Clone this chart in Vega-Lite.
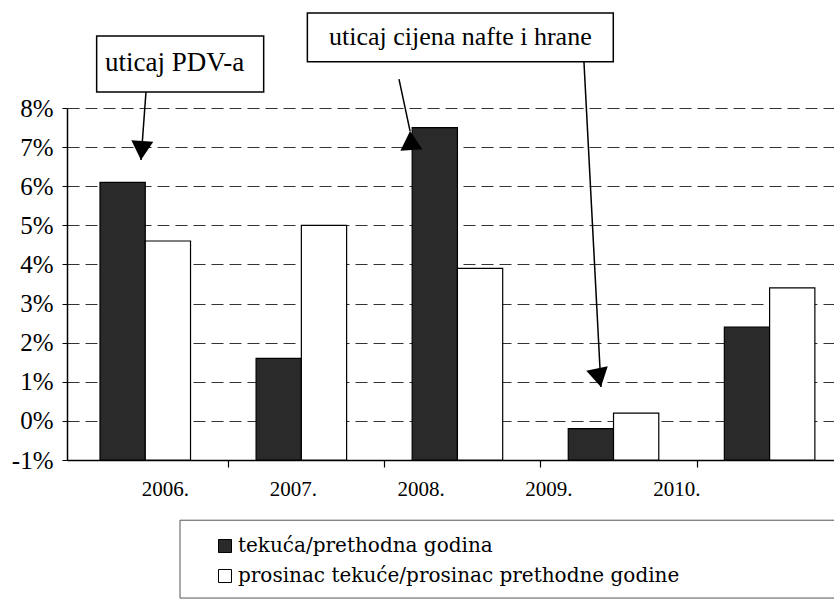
{
  "$schema": "https://vega.github.io/schema/vega-lite/v6.json",
  "width": 767,
  "height": 352,
  "autosize": {"type": "none"},
  "padding": {"left": 67, "top": 108, "right": 0, "bottom": 142},
  "background": "white",
  "config": {
    "view": {"stroke": null},
    "font": "Liberation Serif",
    "text": {"font": "Liberation Serif"},
    "axisY": {
      "title": null, "tickCount": 12, "labelOverlap": false, "labelFlush": false,
      "labelFont": "Liberation Serif", "labelFontSize": 25, "labelColor": "black", "labelPadding": 9,
      "domainColor": "black", "domainWidth": 1.5, "tickColor": "black", "tickSize": 5,
      "grid": true, "gridColor": "#333333", "gridDash": [12, 6], "gridWidth": 1
    }
  },
  "datasets": {
    "bars": [
      {"year": "2006.", "series": "tekuća/prethodna godina", "value": 6.1},
      {"year": "2006.", "series": "prosinac tekuće/prosinac prethodne godine", "value": 4.6},
      {"year": "2007.", "series": "tekuća/prethodna godina", "value": 1.6},
      {"year": "2007.", "series": "prosinac tekuće/prosinac prethodne godine", "value": 5.0},
      {"year": "2008.", "series": "tekuća/prethodna godina", "value": 7.5},
      {"year": "2008.", "series": "prosinac tekuće/prosinac prethodne godine", "value": 3.9},
      {"year": "2009.", "series": "tekuća/prethodna godina", "value": -0.2},
      {"year": "2009.", "series": "prosinac tekuće/prosinac prethodne godine", "value": 0.2},
      {"year": "2010.", "series": "tekuća/prethodna godina", "value": 2.4},
      {"year": "2010.", "series": "prosinac tekuće/prosinac prethodne godine", "value": 3.4}
    ],
    "boxes": [
      {"label": "uticaj PDV-a", "x1": 2005.69, "x2": 2006.76, "y1": 9.84, "y2": 8.41, "tx": 2006.19, "ty": 9.15},
      {"label": "uticaj cijena nafte i hrane", "x1": 2007.04, "x2": 2009.0, "y1": 10.43, "y2": 9.18, "tx": 2008.02, "ty": 9.82}
    ],
    "arrows": [
      {"arrow": "a", "x1": 2006.006, "y1": 8.41, "x2": 2005.974, "y2": 6.67},
      {"arrow": "b", "x1": 2007.627, "y1": 8.74, "x2": 2007.698, "y2": 7.41},
      {"arrow": "c", "x1": 2008.812, "y1": 9.18, "x2": 2008.921, "y2": 0.865}
    ],
    "frame": [
      {"x1": 2006.224, "x2": 2010.7, "y1": -2.54, "y2": -4.53}
    ]
  },
  "layer": [
    {
      "data": {"name": "bars"},
      "mark": {"type": "bar", "stroke": "black", "strokeWidth": 1.2},
      "encoding": {
        "x": {
          "field": "year", "type": "nominal",
          "scale": {"paddingInner": 0.42, "paddingOuter": 0.167, "align": 0.633},
          "axis": {"title": null, "labels": false, "tickOffset": 83, "domainColor": "black", "domainWidth": 1.5, "tickColor": "black", "tickSize": 7, "tickWidth": 1.2, "grid": false}
        },
        "xOffset": {"field": "series", "type": "nominal", "sort": ["tekuća/prethodna godina", "prosinac tekuće/prosinac prethodne godine"], "scale": {"paddingInner": 0, "paddingOuter": 0}},
        "y": {
          "field": "value", "type": "quantitative",
          "scale": {"domain": [-1, 8], "nice": false, "zero": false},
          "axis": {"values": [-1, 0, 1, 2, 3, 4, 5, 6, 7, 8], "tickCount": 12, "labelExpr": "datum.value + '%'", "labelOverlap": false, "labelFontSize": 25, "labelFont": "Liberation Serif", "labelPadding": 9}
        },
        "y2": {"datum": -1},
        "color": {
          "field": "series", "type": "nominal",
          "sort": ["tekuća/prethodna godina", "prosinac tekuće/prosinac prethodne godine"],
          "scale": {"range": ["#2a2a2a", "#ffffff"]},
          "legend": {
            "title": null, "orient": "none", "legendX": 148, "legendY": 428,
            "symbolType": "square", "symbolSize": 169, "symbolStrokeColor": "black", "symbolStrokeWidth": 1,
            "symbolOpacity": 1, "labelLimit": 0,
            "labelFont": "DejaVu Serif", "labelFontSize": 20, "labelColor": "black",
            "rowPadding": 10, "labelOffset": 3, "padding": 0
          }
        }
      }
    },
    {
      "data": {"name": "frame"},
      "mark": {"type": "rect", "fill": null, "stroke": "#555555", "strokeWidth": 1},
      "encoding": {
        "x": {"field": "x1", "type": "quantitative", "scale": {"domain": [2005.5, 2010.414], "nice": false, "zero": false}, "axis": null},
        "x2": {"field": "x2"},
        "y": {"field": "y1", "type": "quantitative"},
        "y2": {"field": "y2"}
      }
    },
    {
      "data": {"name": "bars"},
      "transform": [{"filter": "datum.series == 'tekuća/prethodna godina'"}],
      "mark": {"type": "text", "fontSize": 21, "font": "Liberation Serif", "color": "black", "baseline": "middle", "dy": 30},
      "encoding": {
        "x": {"field": "year", "type": "nominal", "scale": {"type": "point", "padding": 1.008, "align": 0.385}, "axis": null},
        "y": {"datum": -1},
        "text": {"field": "year"}
      }
    },
    {
      "data": {"name": "boxes"},
      "mark": {"type": "rect", "fill": "white", "stroke": "black", "strokeWidth": 1.5},
      "encoding": {
        "x": {"field": "x1", "type": "quantitative", "scale": {"domain": [2005.5, 2010.414], "nice": false, "zero": false}, "axis": null},
        "x2": {"field": "x2"},
        "y": {"field": "y1", "type": "quantitative"},
        "y2": {"field": "y2"}
      }
    },
    {
      "data": {"name": "boxes"},
      "mark": {"type": "text", "font": "Liberation Serif", "color": "black", "baseline": "middle", "align": "center"},
      "encoding": {
        "x": {"field": "tx", "type": "quantitative", "scale": {"domain": [2005.5, 2010.414], "nice": false, "zero": false}, "axis": null},
        "y": {"field": "ty", "type": "quantitative"},
        "text": {"field": "label"},
        "size": {"field": "label", "type": "nominal", "scale": {"domain": ["uticaj PDV-a", "uticaj cijena nafte i hrane"], "range": [27, 26]}, "legend": null}
      }
    },
    {
      "data": {"name": "arrows"},
      "mark": {"type": "rule", "color": "black", "strokeWidth": 1.5},
      "encoding": {
        "x": {"field": "x1", "type": "quantitative", "scale": {"domain": [2005.5, 2010.414], "nice": false, "zero": false}, "axis": null},
        "x2": {"field": "x2"},
        "y": {"field": "y1", "type": "quantitative"},
        "y2": {"field": "y2"}
      }
    },
    {
      "data": {"name": "arrows"},
      "mark": {"type": "point", "filled": true, "color": "black", "opacity": 1, "shape": "M0,0L-1,-1.73L1,-1.73Z", "size": 484},
      "encoding": {
        "x": {"field": "x2", "type": "quantitative", "scale": {"domain": [2005.5, 2010.414], "nice": false, "zero": false}, "axis": null},
        "y": {"field": "y2", "type": "quantitative"},
        "angle": {"field": "arrow", "type": "nominal", "scale": {"domain": ["a", "b", "c"], "range": [4, 348, 357]}, "legend": null}
      }
    }
  ],
  "resolve": {"scale": {"x": "independent", "size": "independent", "angle": "independent"}}
}
